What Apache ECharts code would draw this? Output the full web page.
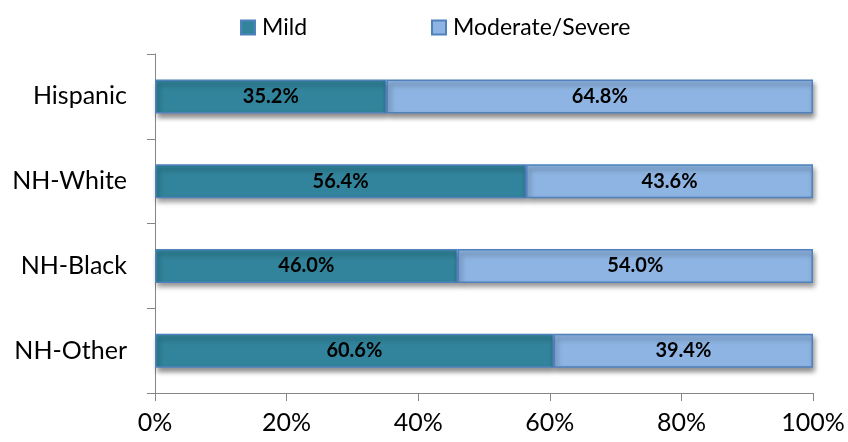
<!DOCTYPE html>
<html>
<head>
<meta charset="utf-8">
<script src="https://cdn.jsdelivr.net/npm/echarts@6/dist/echarts.min.js"></script>
<style>
  html, body { margin: 0; padding: 0; background: #fff; }
  #main { width: 848px; height: 442px; }
</style>
</head>
<body>
<div id="main"></div>
<script>
// categories, top to bottom
const groups = ['Hispanic', 'NH-White', 'NH-Black', 'NH-Other'];
const mild = [35.2, 56.4, 46.0, 60.6];
const moderateSevere = [64.8, 43.6, 54.0, 39.4];
const xTicks = [0, 20, 40, 60, 80, 100];

const font = 'Lato, "Open Sans", sans-serif';
const chart = echarts.init(document.getElementById('main'));

const barStyle = (color) => ({
  color: color,
  borderColor: '#4F81BD',
  borderWidth: 1.5,
  shadowColor: 'rgba(0,0,0,0.45)',
  shadowBlur: 5,
  shadowOffsetX: 2,
  shadowOffsetY: 4
});

const labelStyle = {
  show: true,
  position: 'inside',
  color: '#000',
  fontWeight: 'bold',
  fontSize: 20,
  fontFamily: font,
  formatter: (p) => p.value.toFixed(1) + '%'
};

const legendText = { fontSize: 23, fontFamily: font, color: '#000', padding: [0, 0, 0, 2] };

chart.setOption({
  animation: false,
  legend: [
    {
      left: 235, top: 11, itemWidth: 14, itemHeight: 14, itemGap: 0, icon: 'rect',
      data: ['Mild'],
      textStyle: legendText
    },
    {
      left: 426, top: 11, itemWidth: 14, itemHeight: 14, itemGap: 0, icon: 'rect',
      data: ['Moderate/Severe'],
      textStyle: legendText
    }
  ],
  grid: { left: 155, right: 35, top: 54, bottom: 49 },
  xAxis: {
    type: 'value',
    min: 0,
    max: 100,
    interval: 20,
    axisLine: { show: true, lineStyle: { color: '#868686' } },
    axisTick: { show: true, length: 8, lineStyle: { color: '#868686' } },
    splitLine: { show: false },
    axisLabel: {
      fontSize: 25, fontFamily: font, color: '#000', margin: 17,
      formatter: (v) => xTicks.includes(v) ? v + '%' : ''
    }
  },
  yAxis: {
    type: 'category',
    data: groups,
    inverse: true,
    axisLine: { show: true, lineStyle: { color: '#868686' } },
    axisTick: { show: true, length: 8, lineStyle: { color: '#868686' } },
    axisLabel: { fontSize: 25, fontFamily: font, color: '#000', margin: 28 }
  },
  series: [
    {
      name: 'Mild',
      type: 'bar',
      stack: 'total',
      barWidth: 34,
      data: mild,
      itemStyle: barStyle('#31849B'),
      label: labelStyle
    },
    {
      name: 'Moderate/Severe',
      type: 'bar',
      stack: 'total',
      barWidth: 34,
      data: moderateSevere,
      itemStyle: barStyle('#8DB4E2'),
      label: labelStyle
    }
  ]
});
</script>
</body>
</html>
